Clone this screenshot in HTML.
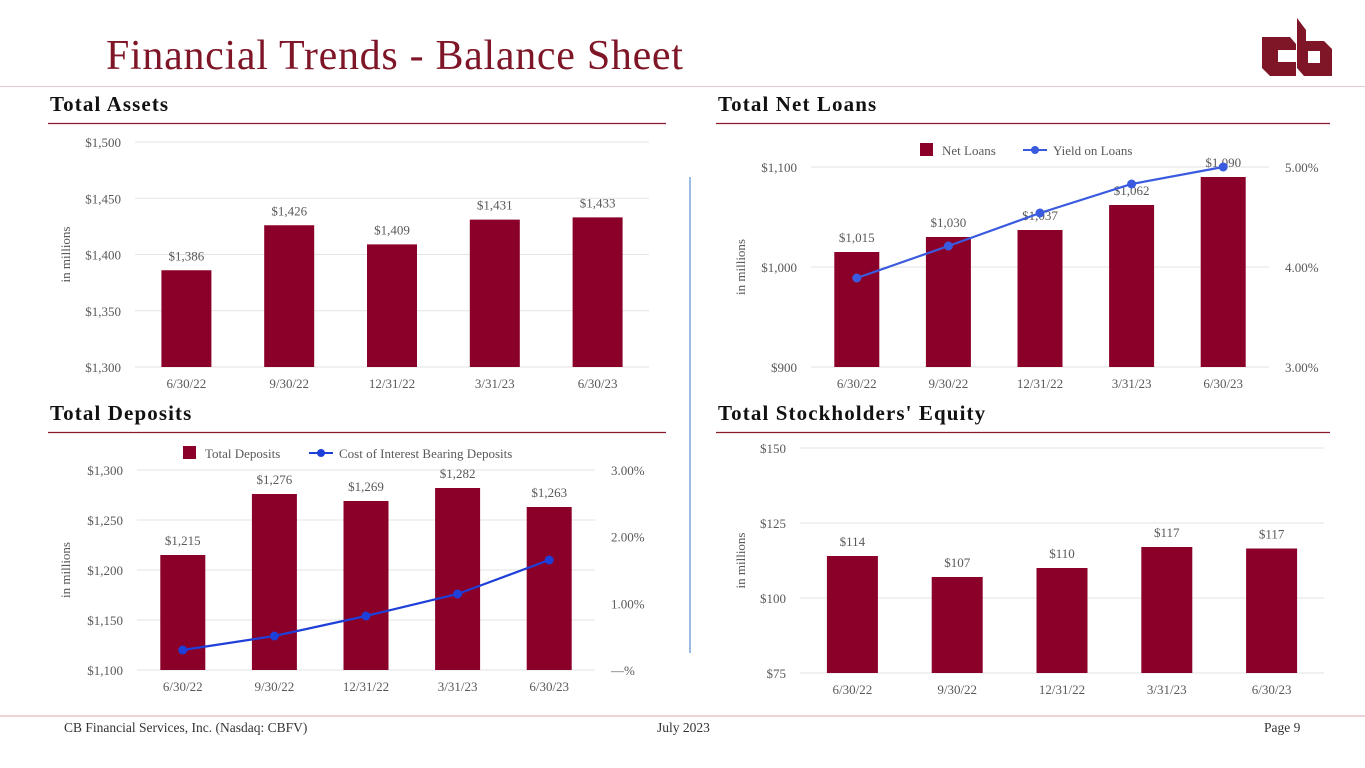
<!DOCTYPE html>
<html><head><meta charset="utf-8">
<style>
body{margin:0;width:1365px;height:768px;background:#fff;overflow:hidden;font-family:"Liberation Serif",serif;}
#wrap{position:relative;width:1365px;height:768px;}
.t{position:absolute;}
</style></head>
<body><div id="wrap">
<div class="t" style="left:106px;top:32px;font-size:42px;letter-spacing:0.7px;color:#7e1628;white-space:nowrap;">Financial Trends - Balance Sheet</div>
<svg class="t" style="left:1256px;top:14px" width="82" height="66">
<path d="M6 23 H34 L40 30 V36 H22 V48 H40 V62 H14 L6 54 Z" fill="#7e1628"/>
<path d="M41 4 L50 16 V27 H68 L76 35 V62 H48 L41 54 Z M52 37 V49 H64 V37 Z" fill="#7e1628" fill-rule="evenodd"/>
</svg>
<div class="t" style="left:0;top:86px;width:1365px;height:1px;background:#e8c8cc"></div>
<svg id="main" class="t" style="left:0;top:0" width="1365" height="768"></svg>
<div class="t" style="left:0;top:715px;width:1365px;height:2px;background:#ecd3d6"></div>
<div class="t" style="left:64px;top:720px;font-size:13.5px;color:#333">CB Financial Services, Inc. (Nasdaq: CBFV)</div>
<div class="t" style="left:657px;top:720px;font-size:13.5px;color:#333">July 2023</div>
<div class="t" style="left:1264px;top:720px;font-size:13.5px;color:#333">Page 9</div>
</div>
<script>
const categories=["6/30/22","9/30/22","12/31/22","3/31/23","6/30/23"];
const assetsValues=[1386,1426,1409,1431,1433];
const assetsTicks=["$1,300","$1,350","$1,400","$1,450","$1,500"];
const loansValues=[1015,1030,1037,1062,1090];
const loansYield=[3.89,4.21,4.54,4.83,5.00];
const loansTicks=["$900","$1,000","$1,100"];
const loansPctTicks=["3.00%","4.00%","5.00%"];
const depositsValues=[1215,1276,1269,1282,1263];
const depositsCost=[0.30,0.51,0.81,1.14,1.65];
const depositsTicks=["$1,100","$1,150","$1,200","$1,250","$1,300"];
const depositsPctTicks=["—%","1.00%","2.00%","3.00%"];
const equityValues=[114,107,110,117,116.5];
const equityLabels=["$114","$107","$110","$117","$117"];
const equityTicks=["$75","$100","$125","$150"];

const NS="http://www.w3.org/2000/svg";
const svg=document.getElementById('main');
function mk(tag,attrs,parent,text){const e=document.createElementNS(NS,tag);for(const k in attrs)e.setAttribute(k,attrs[k]);if(text!==undefined)e.textContent=text;(parent||svg).appendChild(e);return e;}
function fmt(v){return "$"+Math.round(v).toLocaleString("en-US");}

function heading(txt,x,y,x2,name){
  const t=mk('text',{x:x,y:y,'font-size':21,'font-weight':'bold',fill:'#111','letter-spacing':1.1,'font-family':'Liberation Serif, serif'},svg,txt);
  
  
  const l=mk('line',{x1:x-2,x2:x2,y1:122.5+(y-110),y2:122.5+(y-110),stroke:'#8b1a2b','stroke-width':1.3});
  
  
}
heading("Total Assets",50,111,666,"total-assets-heading");
heading("Total Net Loans",718,111,1330,"total-net-loans-heading");
heading("Total Deposits",50,420,666,"total-deposits-heading");
heading("Total Stockholders' Equity",718,420,1330,"total-equity-heading");
const vl=mk('line',{x1:690,x2:690,y1:177,y2:653,stroke:'#5b8fd0','stroke-width':1.2});



function chart(o){
  const g=mk('g',{});
  
  
  const n=categories.length, band=(o.x1-o.x0)/n;
  const xc=i=>o.x0+band*(i+0.5);
  const y=v=>o.yb-(v-o.min)/(o.max-o.min)*(o.yb-o.yt);
  o.ticks.forEach((tk,i)=>{
    const v=o.min+(o.max-o.min)*i/(o.ticks.length-1), yy=y(v);
    const gl=mk('line',{x1:o.x0,x2:o.x1,y1:yy,y2:yy,stroke:'#e3e3e3','stroke-width':1},g);
    
    
    const t=mk('text',{x:o.x0-14,y:yy+5,'text-anchor':'end','font-size':13,fill:'#595959'},g,tk);
    
    
  });
  const at=mk('text',{transform:`translate(${o.ax},${(o.yt+o.yb)/2}) rotate(-90)`,'text-anchor':'middle','font-size':13,fill:'#595959'},g,'in millions');
  
  
  o.values.forEach((v,i)=>{
    const r=mk('rect',{x:xc(i)-o.bw/2,y:y(v),width:o.bw,height:o.yb-y(v),fill:'#8b0029'},g);
    
    
    const lb=mk('text',{x:xc(i),y:y(v)-10,'text-anchor':'middle','font-size':13,fill:'#595959'},g,o.labels?o.labels[i]:fmt(v));
    
    
    const xl=mk('text',{x:xc(i),y:o.yb+21,'text-anchor':'middle','font-size':13,fill:'#595959'},g,categories[i]);
    
    
  });
  if(o.line){
    const py=v=>o.yb-(v-o.pmin)/(o.pmax-o.pmin)*(o.yb-o.yt2);
    o.pticks.forEach((tk,i)=>{
      const v=o.pmin+(o.pmax-o.pmin)*i/(o.pticks.length-1);
      const t=mk('text',{x:o.x1+16,y:py(v)+5,'font-size':13,fill:'#595959'},g,tk);
      
      
    });
    const pts=o.line.map((v,i)=>xc(i)+','+py(v)).join(' ');
    const pl=mk('polyline',{points:pts,fill:'none',stroke:o.lc,'stroke-width':2.2},g);
    
    
    o.line.forEach((v,i)=>{
      const c=mk('circle',{cx:xc(i),cy:py(v),r:4.5,fill:o.lc},g);
      
      
    });
    const lx=o.legx;
    const lr=mk('rect',{x:lx,y:o.legy-11,width:13,height:13,fill:'#8b0029'},g);
    
    
    const lt1=mk('text',{x:lx+22,y:o.legy+1,'font-size':13,fill:'#595959'},g,o.leg1);
    
    
    const l2=o.leg2x;
    const ll=mk('line',{x1:l2,x2:l2+24,y1:o.legy-4,y2:o.legy-4,stroke:o.lc,'stroke-width':2},g);
    
    
    const lc=mk('circle',{cx:l2+12,cy:o.legy-4,r:4,fill:o.lc},g);
    
    
    const lt2=mk('text',{x:l2+30,y:o.legy+1,'font-size':13,fill:'#595959'},g,o.leg2);
    
    
  }
}
chart({name:'total-assets-chart',x0:135,x1:649,yt:142,yb:367,min:1300,max:1500,ticks:assetsTicks,values:assetsValues,bw:50,ax:70});
chart({name:'total-net-loans-chart',x0:811,x1:1269,yt:167,yb:367,min:900,max:1100,ticks:loansTicks,values:loansValues,bw:45,ax:745,
  line:loansYield,pmin:3,pmax:5,yt2:167,pticks:loansPctTicks,lc:'#3a5be0',legx:920,legy:154,leg1:'Net Loans',leg2x:1023,leg2:'Yield on Loans'});
chart({name:'total-deposits-chart',x0:137,x1:595,yt:470,yb:670,min:1100,max:1300,ticks:depositsTicks,values:depositsValues,bw:45,ax:70,
  line:depositsCost,pmin:0,pmax:3,yt2:470,pticks:depositsPctTicks,lc:'#1e3fd8',legx:183,legy:457,leg1:'Total Deposits',leg2x:309,leg2:'Cost of Interest Bearing Deposits'});
chart({name:'total-equity-chart',x0:800,x1:1324,yt:448,yb:673,min:75,max:150,ticks:equityTicks,values:equityValues,labels:equityLabels,bw:51,ax:745});
</script>
</body></html>
